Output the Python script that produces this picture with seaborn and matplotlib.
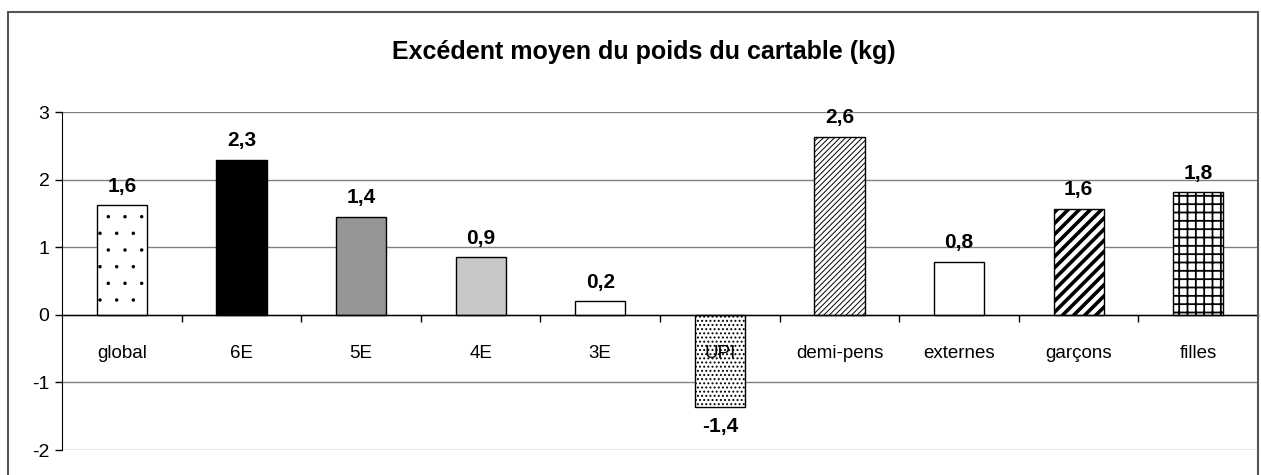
import matplotlib
matplotlib.use("Agg")
import matplotlib.pyplot as plt
import matplotlib.container as mc
import seaborn as sns
from matplotlib.patches import Rectangle
from matplotlib.ticker import FixedLocator

categories = ["global", "6E", "5E", "4E", "3E", "UPI", "demi-pens", "externes", "garçons", "filles"]
values = [1.62, 2.29, 1.45, 0.85, 0.20, -1.37, 2.63, 0.78, 1.57, 1.81]
value_labels = ["1,6", "2,3", "1,4", "0,9", "0,2", "-1,4", "2,6", "0,8", "1,6", "1,8"]
y_ticks = [-2, -1, 0, 1, 2, 3]
title = "Excédent moyen du poids du cartable (kg)"

fills = ["white", "black", "#969696", "#c8c8c8", "white", "white", "white", "white", "white", "white"]
hatches = [".", None, None, None, None, "....", "//////", None, "///", "++"]
hatch_lw = [0.1, 1, 1, 1, 1, 0.9, 0.7, 2.6, 2.6, 1.3]

sns.set_style("white")
plt.rcParams["font.family"] = ["Liberation Sans", "DejaVu Sans"]
plt.rcParams["text.color"] = "black"
plt.rcParams["xtick.color"] = "black"
plt.rcParams["ytick.color"] = "black"

fig = plt.figure(figsize=(12.61, 4.75), dpi=100)
ax = fig.add_axes([0.0492, 0.0526, 0.9485, 0.7116])

sns.barplot(x=categories, y=values, hue=categories, palette=fills, legend=False,
            width=0.42, edgecolor="black", linewidth=1.0, saturation=1, ax=ax)

bars = list(ax.patches)
for p, h, lw in zip(bars, hatches, hatch_lw):
    if h:
        p.set_hatch(h)
        try:
            p.set_hatch_linewidth(lw)
        except AttributeError:
            pass

bc = mc.BarContainer(bars, datavalues=values, orientation="vertical")
ax.bar_label(bc, labels=value_labels, padding=7, fontsize=15, fontweight="bold", color="black")

ax.set_ylim(-2, 3)
ax.set_xlim(-0.5, len(categories) - 0.5)
ax.set_yticks(y_ticks)
ax.set_yticklabels([str(t) for t in y_ticks], fontsize=14)
ax.yaxis.grid(True, color="#808080", linewidth=1.0)
ax.set_axisbelow(True)
ax.xaxis.set_zorder(5)

ax.spines["bottom"].set_position(("data", 0))
ax.spines["bottom"].set_color("black")
ax.spines["bottom"].set_linewidth(1.0)
ax.spines["bottom"].set_zorder(4)
ax.spines["left"].set_color("black")
ax.spines["top"].set_visible(False)
ax.spines["right"].set_visible(False)

ax.tick_params(axis="y", direction="out", length=5, width=1, color="black", labelcolor="black", left=True, pad=4)
ax.tick_params(axis="x", which="major", length=0, pad=22, labelsize=13.5, labelcolor="black")
ax.xaxis.set_minor_locator(FixedLocator([i + 0.5 for i in range(len(categories) - 1)]))
ax.tick_params(axis="x", which="minor", direction="out", length=5, width=1, color="black", bottom=True)
ax.set_xlabel("")
ax.set_ylabel("")

fig.text(0.5107, 0.8905, title, ha="center", va="center", fontsize=18, fontweight="bold", color="black")

fig.patches.append(Rectangle((8 / 1261, -20 / 475), 1250 / 1261, 483 / 475, transform=fig.transFigure,
                             fill=False, edgecolor="#555555", linewidth=1.5))

fig.savefig("out.png", dpi=100)
